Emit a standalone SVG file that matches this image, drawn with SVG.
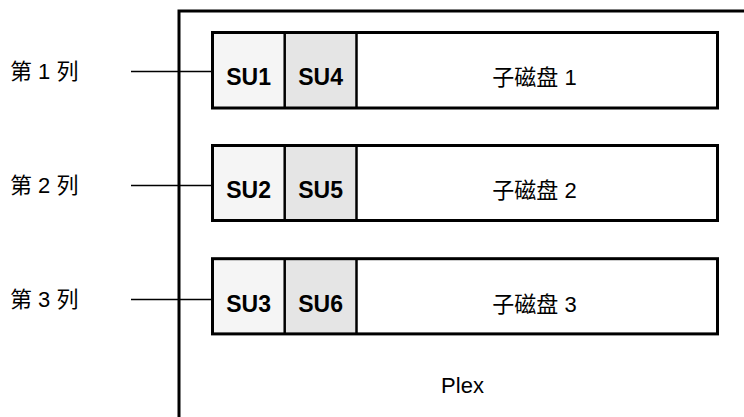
<svg xmlns="http://www.w3.org/2000/svg" width="744" height="417" viewBox="0 0 744 417">
<style>
.lbl{font-family:"Liberation Sans","Noto Sans CJK SC",sans-serif;font-size:22px;fill:#000}
.su{font-family:"Liberation Sans",sans-serif;font-size:23px;font-weight:bold;fill:#000;text-anchor:middle}
.disk{font-family:"Liberation Sans","Noto Sans CJK SC",sans-serif;font-size:22px;fill:#000;text-anchor:middle}
.box{fill:none;stroke:#000;stroke-width:3}
.a{fill:#f5f5f5}
.b{fill:#e5e5e5}
.div{stroke:#000;stroke-width:2.5}
.conn{stroke:#000;stroke-width:1.5;fill:none}
</style>
<g id="plex">
<path d="M179 417 V11 H744" fill="none" stroke="#000" stroke-width="3"/>
<text class="disk" x="462.5" y="393">Plex</text>
</g>
<g id="connectors">
<line class="conn" x1="131" y1="71.5" x2="212" y2="71.5"/>
<line class="conn" x1="131" y1="185.5" x2="212" y2="185.5"/>
<line class="conn" x1="131" y1="299.5" x2="212" y2="299.5"/>
</g>
<g id="col1">
<text class="lbl" x="10" y="79">第 1 列</text>
</g>
<g id="col2">
<text class="lbl" x="10" y="193">第 2 列</text>
</g>
<g id="col3">
<text class="lbl" x="10" y="307">第 3 列</text>
</g>
<g id="disk1">
<rect class="a" x="212.5" y="32.5" width="72" height="75.5"/>
<rect class="b" x="284.5" y="32.5" width="72" height="75.5"/>
<rect class="box" x="212.5" y="32.5" width="505" height="75.5"/>
<line class="div" x1="284.7" y1="32.5" x2="284.7" y2="108"/>
<line class="div" x1="356.5" y1="32.5" x2="356.5" y2="108"/>
<text class="su" x="248.6" y="84.5">SU1</text>
<text class="su" x="320.6" y="84.5">SU4</text>
<text class="disk" x="534.5" y="84.5">子磁盘 1</text>
</g>
<g id="disk2">
<rect class="a" x="212.5" y="145.5" width="72" height="75"/>
<rect class="b" x="284.5" y="145.5" width="72" height="75"/>
<rect class="box" x="212.5" y="145.5" width="505" height="75"/>
<line class="div" x1="284.7" y1="145.5" x2="284.7" y2="220.5"/>
<line class="div" x1="356.5" y1="145.5" x2="356.5" y2="220.5"/>
<text class="su" x="248.6" y="198">SU2</text>
<text class="su" x="320.6" y="198">SU5</text>
<text class="disk" x="534.5" y="198">子磁盘 2</text>
</g>
<g id="disk3">
<rect class="a" x="212.5" y="258.7" width="72" height="75.2"/>
<rect class="b" x="284.5" y="258.7" width="72" height="75.2"/>
<rect class="box" x="212.5" y="258.7" width="505" height="75.2"/>
<line class="div" x1="284.7" y1="258.7" x2="284.7" y2="333.9"/>
<line class="div" x1="356.5" y1="258.7" x2="356.5" y2="333.9"/>
<text class="su" x="248.6" y="311.5">SU3</text>
<text class="su" x="320.6" y="311.5">SU6</text>
<text class="disk" x="534.5" y="311.5">子磁盘 3</text>
</g>
</svg>
